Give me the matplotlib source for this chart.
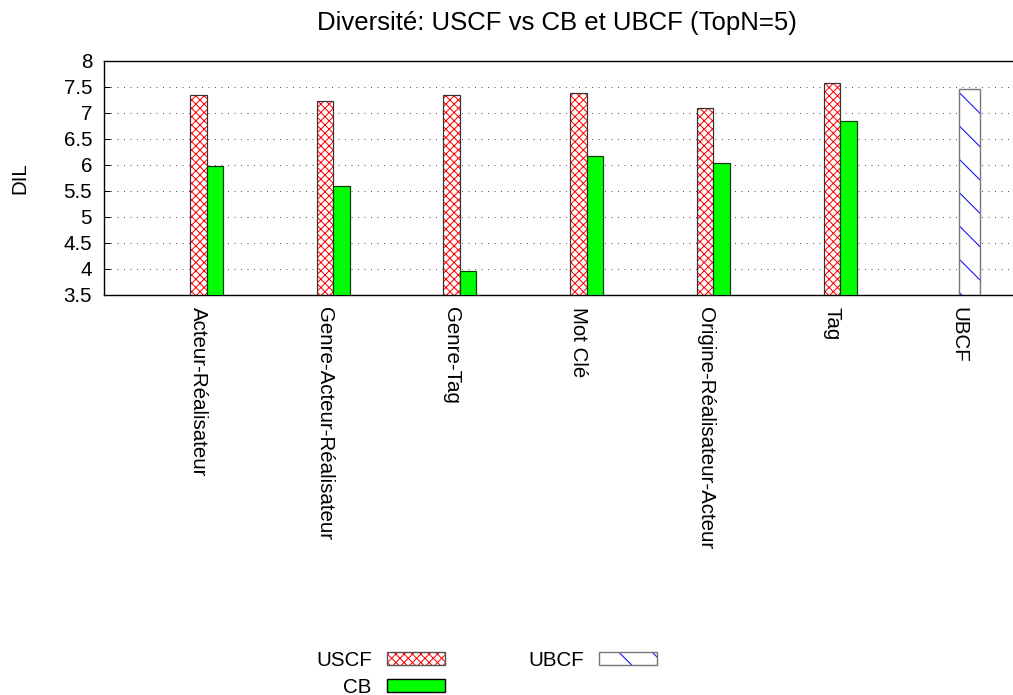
import matplotlib
matplotlib.use("Agg")
import matplotlib.pyplot as plt
from matplotlib.patches import Patch

# ---- données ----
categories = ["Acteur-Réalisateur", "Genre-Acteur-Réalisateur", "Genre-Tag", "Mot Clé",
              "Origine-Réalisateur-Acteur", "Tag", "UBCF"]
uscf = [7.35, 7.23, 7.34, 7.39, 7.10, 7.58]
cb = [5.99, 5.60, 3.97, 6.17, 6.03, 6.85]
ubcf = [7.47]

W, H, DPI = 1013, 695, 200
PT = 72 / DPI  # points par pixel
plt.rcParams["font.family"] = ["Liberation Sans", "DejaVu Sans"]
plt.rcParams["hatch.linewidth"] = 1.0 * PT

fig = plt.figure(figsize=(W / DPI, H / DPI), dpi=DPI)
ax = fig.add_axes([104 / W, 1 - 295 / H, 1 - 104 / W, (295 - 61) / H])

bw = 0.13
xs = list(range(len(uscf)))
ax.bar(xs, uscf, bw, color="white", edgecolor="red", hatch="xxxxxxxx", lw=0, zorder=2)
ax.bar(xs, uscf, bw, color="none", edgecolor="#333333", lw=1.2 * PT, zorder=3)
ax.bar([x + bw for x in xs], cb, bw, color="#00ff00", edgecolor="#0a3a0a", lw=1.2 * PT, zorder=3)
ax.bar([6], ubcf, 0.172, align="edge", color="white", edgecolor="blue", hatch="\\\\", lw=0, zorder=2)
ax.bar([6], ubcf, 0.172, align="edge", color="none", edgecolor="#777777", lw=1.4 * PT, zorder=3)

ax.set_xlim(-0.744, 6.43)
ax.set_ylim(3.5, 8)
ax.set_yticks([3.5, 4, 4.5, 5, 5.5, 6, 6.5, 7, 7.5, 8])
ax.set_yticklabels(["3.5", "4", "4.5", "5", "5.5", "6", "6.5", "7", "7.5", "8"])
ax.set_xticks(range(len(categories)))
ax.set_xticklabels(categories, rotation=270, ha="center", va="top")
ax.tick_params(axis="y", direction="in", length=6 * PT, width=1 * PT, pad=12 * PT,
               labelsize=20.5 * PT)
ax.tick_params(axis="x", length=0, pad=12 * PT, labelsize=20.5 * PT)
for s in ["left", "bottom", "top"]:
    ax.spines[s].set_linewidth(1.4 * PT)
ax.spines["right"].set_visible(False)

ax.set_axisbelow(True)
ax.yaxis.grid(True, color="#555555", lw=1.0 * PT, linestyle=(0, (1, 5.5)))
gls = ax.yaxis.get_gridlines()
gls[0].set_visible(False)
gls[-1].set_visible(False)

fig.text(556.5 / W, 1 - 30 / H, "Diversité: USCF vs CB et UBCF (TopN=5)", ha="center",
         va="baseline", fontsize=25.7 * PT)
fig.text(20 / W, 1 - 178 / H, "DIL", rotation=90, ha="center", va="center", fontsize=20.5 * PT)

h_uscf = (Patch(facecolor="white", edgecolor="red", hatch="xxxxxxxx", lw=0),
          Patch(facecolor="none", edgecolor="#555555", lw=1.4 * PT))
h_cb = Patch(facecolor="#00ff00", edgecolor="black", lw=1.4 * PT)
h_ubcf = (Patch(facecolor="white", edgecolor="blue", hatch="\\\\", lw=0),
          Patch(facecolor="none", edgecolor="#777777", lw=1.4 * PT))
fig.legend([h_uscf, h_cb, h_ubcf], ["USCF", "CB", "UBCF"], ncol=2, markerfirst=False,
           frameon=False, loc="upper left", bbox_to_anchor=(316 / W, 1 - 651 / H),
           borderpad=0, borderaxespad=0, fontsize=20.5 * PT, handlelength=2.82,
           handleheight=0.63, handletextpad=0.73, columnspacing=4.1, labelspacing=0.38)

fig.savefig("out.png", dpi=DPI)
